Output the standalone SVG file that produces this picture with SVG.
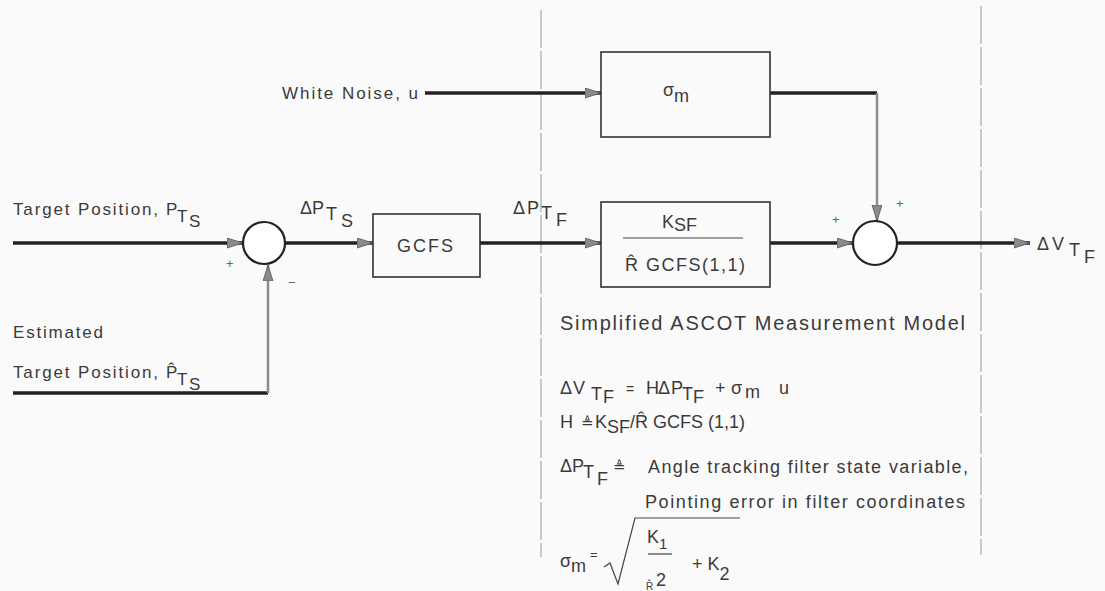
<svg xmlns="http://www.w3.org/2000/svg" width="1105" height="591" viewBox="0 0 1105 591">
<style>
text{font-family:"Liberation Sans","DejaVu Sans",sans-serif;fill:#3a3a3a}
.t{font-size:17px}
.l{font-size:18px}
.e{font-size:18px}
.s{font-size:13px;fill:#666}
.box{fill:none;stroke:#333;stroke-width:1.6}
.sum{fill:#fff;stroke:#222;stroke-width:2.2}
.main{fill:none;stroke:#222;stroke-width:3.5}
.gray{fill:none;stroke:#8c8c8c;stroke-width:2.5}
.dash{fill:none;stroke:#999;stroke-width:1;stroke-dasharray:38 3}
.thin{fill:none;stroke:#444;stroke-width:1.2}
</style>
<defs>
<marker id="ah" markerUnits="userSpaceOnUse" markerWidth="18" markerHeight="12" refX="16" refY="5" orient="auto">
<path d="M0,0 L16,5 L0,10 Z" fill="#8a8a8a" stroke="#555" stroke-width="0.8"/>
</marker>
</defs>
<rect width="1105" height="591" fill="#fafafa"/>

<g id="dividers">
<line class="dash" x1="541" y1="10" x2="541" y2="557"/>
<line class="dash" x1="981" y1="6" x2="981" y2="555"/>
</g>

<g id="connectors">
<line class="main" x1="13" y1="243" x2="243" y2="243" marker-end="url(#ah)"/>
<line class="main" x1="285" y1="243" x2="373" y2="243" marker-end="url(#ah)"/>
<line class="main" x1="480" y1="243" x2="601" y2="243" marker-end="url(#ah)"/>
<line class="main" x1="770" y1="243" x2="853" y2="243" marker-end="url(#ah)"/>
<line class="main" x1="897" y1="243" x2="1030" y2="243" marker-end="url(#ah)"/>
<line class="main" x1="425" y1="93" x2="601" y2="93" marker-end="url(#ah)"/>
<polyline class="main" points="770,93 877,93"/>
<line class="gray" x1="877" y1="93" x2="877" y2="221" marker-end="url(#ah)"/>
<polyline class="main" points="13,393 268,393"/>
<line class="gray" x1="268" y1="393" x2="268" y2="265" marker-end="url(#ah)"/>
</g>

<g id="label-target">
<text class="t" x="13" y="215" textLength="145" lengthAdjust="spacing">Target Position,</text>
<text class="t" x="166" y="215">P<tspan x="177" dy="7">T</tspan><tspan x="189" dy="5">S</tspan></text>
</g>
<g id="label-estimated">
<text class="t" x="13" y="338" textLength="90" lengthAdjust="spacing">Estimated</text>
<text class="t" x="13" y="378" textLength="145" lengthAdjust="spacing">Target Position,</text>
<text class="t" x="166" y="378">P̂<tspan x="177" dy="7">T</tspan><tspan x="189" dy="5">S</tspan></text>
</g>

<g id="sum1">
<circle class="sum" cx="264" cy="243" r="21"/>
<text class="s" x="226" y="268">+</text>
<text class="s" x="288" y="287">−</text>
</g>

<g id="label-dpts">
<text class="l" x="300" y="214">Δ<tspan x="312">P</tspan><tspan x="326" dy="6">T</tspan><tspan x="341" dy="7">S</tspan></text>
</g>

<g id="gcfs">
<rect class="box" x="373" y="214" width="107" height="63"/>
<text class="e" x="397" y="252" textLength="56" lengthAdjust="spacing">GCFS</text>
</g>

<g id="label-dptf">
<text class="l" x="513" y="214">Δ<tspan x="527">P</tspan><tspan x="541" dy="5">T</tspan><tspan x="556" dy="7">F</tspan></text>
</g>

<g id="white-noise">
<text class="t" x="282" y="99" textLength="136" lengthAdjust="spacing">White Noise, u</text>
</g>

<g id="sigma-box">
<rect class="box" x="601" y="52" width="169" height="85"/>
<text class="e" x="663" y="96">σ<tspan dy="6">m</tspan></text>
</g>

<g id="ksf-box">
<rect class="box" x="601" y="202" width="169" height="85"/>
<text class="e" x="662" y="228">K<tspan dy="3">SF</tspan></text>
<line class="thin" x1="623" y1="238" x2="743" y2="238"/>
<text class="e" x="625" y="271" textLength="120" lengthAdjust="spacing">R̂ GCFS(1,1)</text>
</g>

<g id="sum2">
<circle class="sum" cx="875" cy="243" r="22"/>
<text class="s" x="832" y="224">+</text>
<text class="s" x="896" y="208">+</text>
</g>

<g id="label-output">
<text class="l" x="1037" y="250">Δ<tspan x="1052">V</tspan><tspan x="1069" dy="6">T</tspan><tspan x="1084" dy="7">F</tspan></text>
</g>

<g id="caption">
<text x="560" y="330" style="font-size:20px" textLength="405" lengthAdjust="spacing">Simplified ASCOT Measurement Model</text>
</g>

<g id="equations">
<text class="e" x="560" y="394">Δ<tspan x="573">V</tspan><tspan x="591" dy="6">T</tspan><tspan x="603" dy="3">F</tspan><tspan x="626" dy="-9" style="font-size:14px">=</tspan><tspan x="646">H</tspan><tspan x="658">Δ</tspan><tspan x="671">P</tspan><tspan x="682" dy="6">T</tspan><tspan x="693" dy="3">F</tspan><tspan x="715" dy="-9">+</tspan><tspan x="731">σ</tspan><tspan x="745" dy="4">m</tspan><tspan x="779" dy="-4">u</tspan></text>

<text class="e" x="560" y="428">H<tspan x="581" style="font-family:'DejaVu Sans',sans-serif;font-size:15px">≜</tspan><tspan x="595">K</tspan><tspan dy="5">SF</tspan><tspan dy="-5">/R̂ GCFS (1,1)</tspan></text>

<text class="e" x="560" y="472">Δ<tspan x="572">P</tspan><tspan x="583" dy="6">T</tspan><tspan x="597" dy="7">F</tspan><tspan x="613" dy="-13" style="font-family:'DejaVu Sans',sans-serif;font-size:15px">≜</tspan></text>
<text class="e" x="648" y="473" textLength="320" lengthAdjust="spacing">Angle tracking filter state variable,</text>
<text class="e" x="645" y="508" textLength="320" lengthAdjust="spacing">Pointing error in filter coordinates</text>

<text class="e" x="560" y="567">σ<tspan dy="5">m</tspan><tspan x="590" dy="-13" style="font-size:13px">=</tspan></text>
<polyline class="thin" points="604,567 610,563 618,584 635,518 740,518"/>
<text class="e" x="647" y="543">K<tspan dy="6" style="font-size:15px">1</tspan></text>
<line class="thin" x1="648" y1="554" x2="672" y2="554"/>
<text x="646" y="590" style="font-size:10px">R̂</text>
<text class="e" x="656" y="586">2</text>
<text class="e" x="692" y="570">+ K<tspan dy="10">2</tspan></text>
</g>
</svg>
